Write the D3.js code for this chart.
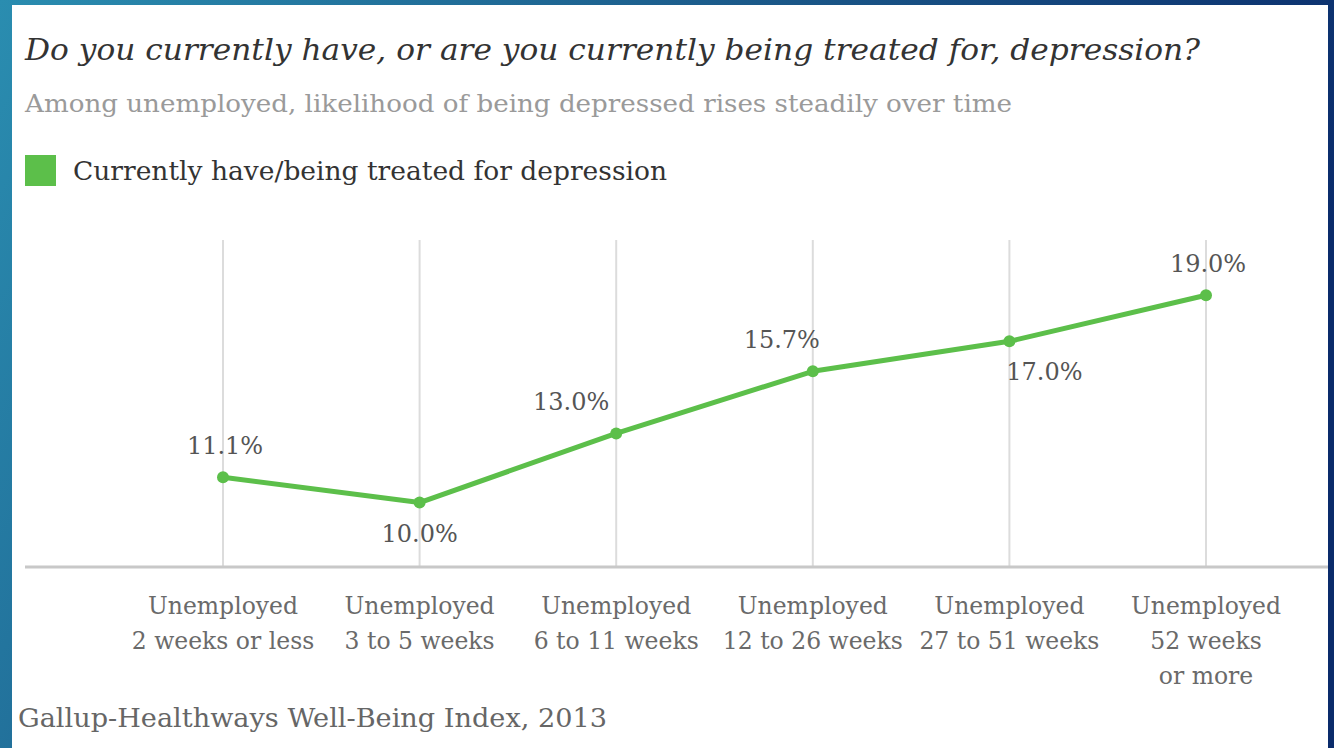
<html>
<head>
  <meta charset="utf-8" />
  <style>
    body { margin: 0; overflow: hidden; }
    text { font-family: 'DejaVu Serif', serif; }
  </style>
</head>
<body>
  <svg id="chart" width="1334" height="748"></svg>
</body>
<script src="https://cdn.jsdelivr.net/npm/d3@7"></script>
<script>

// data
var categories = ['2w', '3-5w', '6-11w', '12-26w', '27-51w', '52w+']
var tickLines = [
  ['Unemployed', '2 weeks or less'],
  ['Unemployed', '3 to 5 weeks'],
  ['Unemployed', '6 to 11 weeks'],
  ['Unemployed', '12 to 26 weeks'],
  ['Unemployed', '27 to 51 weeks'],
  ['Unemployed', '52 weeks', 'or more']
]
var depressed = [11.1, 10.0, 13.0, 15.7, 17.0, 19.0]
var seriesName = 'Currently have/being treated for depression'
var title = 'Do you currently have, or are you currently being treated for, depression?'
var subtitle = 'Among unemployed, likelihood of being depressed rises steadily over time'
var source = 'Gallup-Healthways Well-Being Index, 2013'

// label placement tweaks (above / below the point, horizontal nudge)
var labelSide = ['above', 'below', 'above', 'above', 'below', 'above']
var labelNudge = [2, 0, -45, -31, 35, 2]

var green = '#5cbf4a'
var svg = d3.select('#chart')

var defs = svg.append('defs')
var grad = defs.append('linearGradient').attr('id', 'bg')
  .attr('x1', 0).attr('y1', 0).attr('x2', 1).attr('y2', 0.3)
grad.append('stop').attr('offset', 0).attr('stop-color', '#2a8db0')
grad.append('stop').attr('offset', 0.55).attr('stop-color', '#1a5687')
grad.append('stop').attr('offset', 1).attr('stop-color', '#0a2b6b')

svg.append('rect').attr('width', 1334).attr('height', 748).attr('fill', 'url(#bg)')
svg.append('rect').attr('x', 12).attr('y', 5).attr('width', 1316).attr('height', 760).attr('fill', '#fff')

// headline texts, stretched to the widths seen in the picture
function headline(str, xPos, yPos, size, color, width, italic){
  svg.append('text').attr('x', xPos).attr('y', yPos)
    .attr('font-size', size).attr('fill', color)
    .attr('font-style', italic ? 'italic' : 'normal')
    .attr('textLength', width).attr('lengthAdjust', 'spacingAndGlyphs')
    .text(str)
}

headline(title, 25, 60, 30, '#333', 1175, true)
headline(subtitle, 25, 112, 24, '#9a9a9a', 987)

svg.append('rect').attr('x', 25).attr('y', 155).attr('width', 31).attr('height', 31).attr('fill', green)
headline(seriesName, 73, 180, 26, '#333', 594)

var x = d3.scalePoint().domain(categories).range([223, 1206])
var y = d3.scaleLinear().domain([7.2, 21.4]).range([567, 240])

// vertical gridlines
svg.append('g').selectAll('line').data(categories).enter().append('line')
  .attr('x1', d => x(d)).attr('x2', d => x(d))
  .attr('y1', y.range()[1]).attr('y2', y.range()[0])
  .attr('stroke', '#dcdcdc').attr('stroke-width', 2)

// baseline
svg.append('line').attr('x1', 25).attr('x2', 1328)
  .attr('y1', 567).attr('y2', 567)
  .attr('stroke', '#c8c8c8').attr('stroke-width', 3)

// x tick labels
var ticks = svg.append('g').selectAll('text').data(categories).enter().append('text')
  .attr('text-anchor', 'middle').attr('font-size', 23.5).attr('fill', '#6a6a6a')
  .attr('transform', d => `translate(${x(d)},614)`)
ticks.each(function(d, i){
  d3.select(this).selectAll('tspan').data(tickLines[i]).enter().append('tspan')
    .attr('x', 0).attr('y', (t, j) => j * 35)
    .text(t => t)
})

var pts = categories.map((c, i) => ({ c: c, v: depressed[i], i: i }))

svg.append('path').datum(pts)
  .attr('d', d3.line().x(d => x(d.c)).y(d => y(d.v)))
  .attr('fill', 'none').attr('stroke', green).attr('stroke-width', 5)
  .attr('stroke-linejoin', 'round')

svg.append('g').selectAll('circle').data(pts).enter().append('circle')
  .attr('cx', d => x(d.c)).attr('cy', d => y(d.v)).attr('r', 6)
  .attr('fill', green)

svg.append('g').selectAll('text').data(pts).enter().append('text')
  .attr('x', d => x(d.c) + labelNudge[d.i])
  .attr('y', d => y(d.v) + (labelSide[d.i] == 'above' ? -23 : 39))
  .attr('text-anchor', 'middle').attr('font-size', 24).attr('fill', '#555')
  .text(d => d.v.toFixed(1) + '%')

headline(source, 18, 727, 26, '#666', 589)

</script>
</html>
